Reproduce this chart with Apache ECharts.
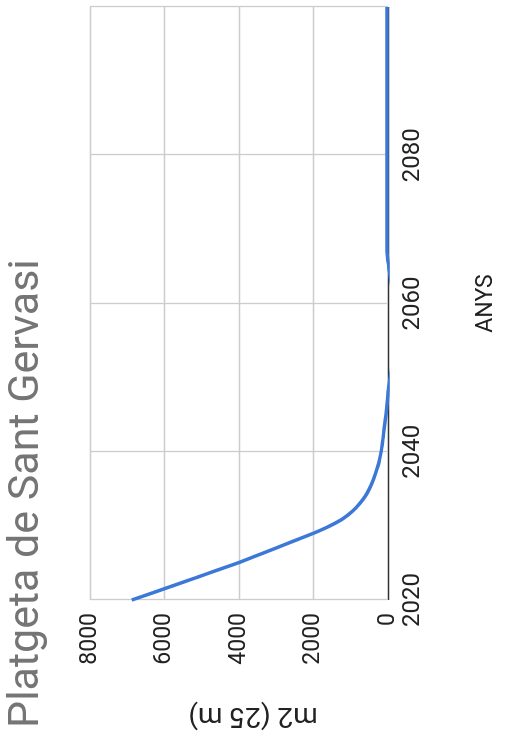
<!DOCTYPE html>
<html>
<head>
<meta charset="utf-8">
<script src="https://cdn.jsdelivr.net/npm/echarts@6/dist/echarts.min.js"></script>
<style>
  html, body { margin: 0; padding: 0; background: #fff; overflow: hidden; }
  body { width: 506px; height: 738px; position: relative; }
  /* the chart is drawn landscape and turned a quarter to the left */
  #chart {
    position: absolute; left: 0; top: 0;
    width: 738px; height: 506px;
    transform-origin: 0 0;
    transform: translate(0, 738px) rotate(-90deg);
  }
</style>
</head>
<body>
<div id="chart"></div>
<script>
const titleText = "Platgeta de Sant Gervasi";
const xName = "ANYS";
const yName = "m2 (25 m)";

const years = [
  2020, 2021, 2022, 2023, 2024, 2025, 2026, 2027, 2028, 2029,
  2030, 2031, 2032, 2033, 2034, 2035, 2036, 2037, 2038, 2039,
  2040, 2041, 2042, 2043, 2044, 2045, 2046, 2047, 2048, 2050,
  2053, 2056, 2059, 2062, 2065, 2067, 2070, 2075, 2080, 2085,
  2090, 2095, 2100
];
const area = [
  6880, 6300, 5730, 5160, 4600, 4030, 3520, 3010, 2510, 2005,
  1560, 1200, 950, 760, 610, 500, 410, 340, 275, 225,
  185, 155, 130, 105, 80, 55, 35, 15, 0, -60,
  -140, -180, -170, -110, -20, 25, 30, 30, 30, 30,
  30, 30, 30
];
const yTicks = [0, 2000, 4000, 6000, 8000];
const xTicks = [2020, 2040, 2060, 2080, 2100];

const chart = echarts.init(document.getElementById("chart"), null, { renderer: "canvas" });

const option = {
  animation: false,
  textStyle: { fontFamily: "Roboto" },
  title: {
    text: titleText,
    left: 10,
    top: 6,
    padding: 0,
    textStyle: { fontFamily: "Roboto", fontSize: 43, fontWeight: "normal", color: "#757575" }
  },
  grid: { left: 138, right: 7, top: 90, bottom: 118 },
  xAxis: {
    type: "value",
    min: xTicks[0],
    max: xTicks[xTicks.length - 1],
    interval: xTicks[1] - xTicks[0],
    name: xName,
    nameLocation: "middle",
    nameGap: 87,
    nameTextStyle: { fontSize: 23, color: "#222", verticalAlign: "top" },
    axisLine: { show: false },
    axisTick: { show: false },
    axisLabel: {
      fontSize: 24, color: "#222", margin: 13,
      showMaxLabel: false,
      formatter: v => String(v)
    },
    splitLine: { show: true, lineStyle: { color: "#cccccc", width: 1.3 } }
  },
  yAxis: {
    type: "value",
    min: yTicks[0],
    max: yTicks[yTicks.length - 1],
    interval: yTicks[1] - yTicks[0],
    axisLine: { show: false },
    axisTick: { show: false },
    axisLabel: { fontSize: 23, color: "#222", margin: 13, formatter: v => String(v) },
    splitLine: {
      show: true,
      lineStyle: {
        color: ["#333333", "#cccccc", "#cccccc", "#cccccc", "#cccccc"],
        width: 1.3
      }
    }
  },
  graphic: [{
    type: "text",
    x: 23,
    y: 253,
    rotation: Math.PI / 2,
    style: {
      text: yName,
      fontFamily: "Roboto",
      fontSize: 28,
      fill: "#222",
      align: "center",
      verticalAlign: "middle"
    }
  }],
  series: [{
    type: "line",
    data: years.map((y, i) => [y, area[i]]),
    showSymbol: false,
    smooth: 0.3,
    lineStyle: { color: "#3c78d8", width: 3.5 },
    itemStyle: { color: "#3c78d8" },
    z: 1
  }]
};

chart.setOption(option);
</script>
</body>
</html>
